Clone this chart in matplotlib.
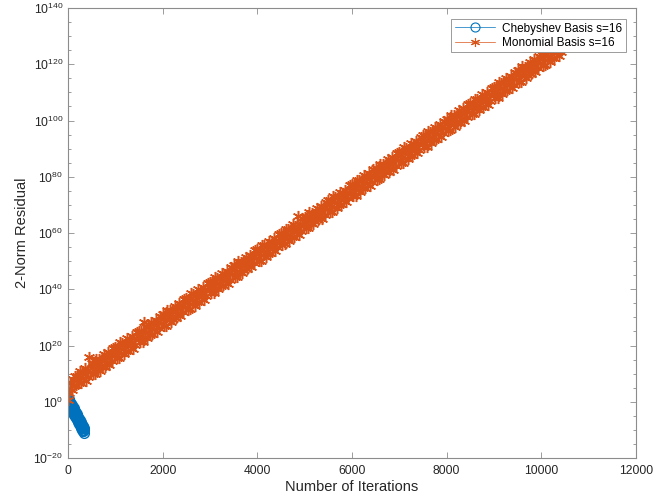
import numpy as np
import matplotlib
matplotlib.use("Agg")
import matplotlib.pyplot as plt

plt.rcParams['font.family'] = ['Liberation Sans', 'DejaVu Sans']
plt.rcParams['mathtext.default'] = 'regular'

# ---------------- data (log10 of the 2-norm residual) ----------------
cheb_iterations = list(range(0, 341, 5))
cheb_log10_residual = [
    1.5, -0.4, 0.8, -0.9, 1.0, -0.6, 0.3, -1.4, -0.4, -1.5,
    -0.1, -2.0, -0.8, -2.5, -0.7, -2.2, -1.3, -3.0, -2.0, -3.1,
    -1.7, -3.6, -2.4, -4.1, -2.3, -3.8, -2.9, -4.6, -3.6, -4.7,
    -3.3, -5.2, -4.1, -5.7, -3.9, -5.4, -4.5, -6.3, -5.2, -6.3,
    -4.9, -6.8, -5.7, -7.3, -5.5, -7.0, -6.1, -7.9, -6.8, -7.9,
    -6.5, -8.4, -7.3, -8.9, -7.1, -8.7, -7.7, -9.5, -8.4, -9.5,
    -8.2, -10.0, -8.9, -10.5, -8.7, -10.3, -9.3, -11.1, -10.0,
]

mono_iterations = list(range(0, 10501, 25))
mono_log10_residual = [
    0.5, 3.0, 6.5, 4.2, 8.0, 5.5, 9.0, 6.0, 9.1, 6.5,
    11.1, 6.7, 10.6, 8.6, 11.9, 7.3, 11.0, 8.7, 16.0, 10.7,
    13.8, 9.7, 13.6, 9.8, 15.3, 11.6, 15.1, 11.1, 14.9, 12.3,
    16.9, 12.5, 16.4, 14.3, 17.6, 13.1, 16.8, 14.5, 19.1, 16.5,
    19.6, 15.5, 19.3, 15.5, 21.1, 17.4, 20.9, 16.9, 20.7, 18.1,
    22.7, 18.2, 22.1, 20.1, 23.4, 18.9, 22.6, 20.3, 24.9, 22.3,
    25.3, 21.2, 25.1, 21.3, 28.5, 23.2, 26.7, 22.7, 26.5, 23.8,
    28.4, 24.0, 27.9, 25.9, 29.2, 24.7, 28.4, 26.1, 30.6, 28.0,
    31.1, 27.0, 30.9, 27.1, 32.7, 29.0, 32.5, 28.4, 32.2, 29.6,
    34.2, 29.8, 33.7, 31.7, 35.0, 30.5, 34.1, 31.8, 36.4, 33.8,
    36.9, 32.8, 36.7, 32.9, 38.5, 34.8, 38.2, 34.2, 38.0, 35.4,
    40.0, 35.6, 39.5, 37.5, 40.8, 36.2, 39.9, 37.6, 42.2, 39.6,
    42.7, 38.6, 42.5, 38.7, 44.2, 40.5, 44.0, 40.0, 43.8, 41.2,
    45.8, 41.4, 45.3, 43.2, 46.5, 42.0, 45.7, 43.4, 48.0, 45.4,
    48.5, 44.4, 48.2, 44.4, 50.0, 46.3, 49.8, 45.8, 49.6, 47.0,
    51.6, 47.1, 51.0, 49.0, 52.3, 47.8, 51.5, 49.2, 53.8, 51.2,
    54.2, 50.1, 54.0, 50.2, 55.8, 52.1, 55.6, 51.6, 55.4, 52.7,
    57.3, 52.9, 56.8, 54.8, 58.1, 53.6, 57.3, 55.0, 59.5, 56.9,
    60.0, 55.9, 59.8, 56.0, 61.6, 57.9, 61.4, 57.3, 61.1, 58.5,
    63.1, 58.7, 62.6, 60.6, 66.0, 59.4, 63.0, 60.7, 65.3, 62.7,
    65.8, 61.7, 65.6, 61.8, 67.4, 63.7, 67.1, 63.1, 66.9, 64.3,
    68.9, 64.5, 68.4, 66.4, 69.7, 65.1, 68.8, 66.5, 71.1, 68.5,
    71.6, 67.5, 71.4, 67.6, 73.1, 69.4, 72.9, 68.9, 72.7, 70.1,
    74.7, 70.3, 74.2, 72.1, 75.4, 70.9, 74.6, 72.3, 76.9, 74.3,
    77.4, 73.3, 77.1, 73.3, 78.9, 75.2, 78.7, 74.7, 78.5, 75.9,
    80.5, 76.0, 79.9, 77.9, 81.2, 76.7, 80.4, 78.1, 82.7, 80.1,
    83.1, 79.0, 82.9, 79.1, 84.7, 81.0, 84.5, 80.5, 84.3, 81.6,
    86.2, 81.8, 85.7, 83.7, 87.0, 82.5, 86.2, 83.9, 88.4, 85.8,
    88.9, 84.8, 88.7, 84.9, 90.5, 86.8, 90.3, 86.2, 90.0, 87.4,
    92.0, 87.6, 91.5, 89.5, 92.8, 88.3, 91.9, 89.6, 94.2, 91.6,
    94.7, 90.6, 94.5, 90.7, 96.3, 92.6, 96.0, 92.0, 95.8, 93.2,
    97.8, 93.4, 97.3, 95.3, 98.6, 94.0, 97.7, 95.4, 100.0, 97.4,
    100.5, 96.4, 100.3, 96.5, 102.0, 98.3, 101.8, 97.8, 101.6, 99.0,
    103.6, 99.2, 103.1, 101.0, 104.3, 99.8, 103.5, 101.2, 105.8, 103.2,
    106.3, 102.2, 106.0, 102.2, 107.8, 104.1, 107.6, 103.6, 107.4, 104.8,
    109.4, 104.9, 108.8, 106.8, 110.1, 105.6, 109.3, 107.0, 111.6, 109.0,
    112.0, 107.9, 111.8, 108.0, 113.6, 109.9, 113.4, 109.4, 113.2, 110.5,
    115.1, 110.7, 114.6, 112.6, 115.9, 111.4, 115.1, 112.8, 117.3, 114.7,
    117.8, 113.7, 117.6, 113.8, 119.4, 115.7, 119.2, 115.1, 118.9, 116.3,
    120.9, 116.5, 120.4, 118.4, 121.7, 117.2, 120.8, 118.5, 123.1, 120.5,
    123.6, 119.5, 123.4, 119.6, 125.2, 121.5, 124.9, 120.9, 124.7, 122.1,
    126.7, 122.3, 126.2, 124.2, 127.5, 122.9, 126.6, 124.3, 128.9, 126.3,
    129.4,
]

x_ticks = [0, 2000, 4000, 6000, 8000, 10000, 12000]
y_tick_exponents = [-20, 0, 20, 40, 60, 80, 100, 120, 140]

cheb_label = 'Chebyshev Basis s=16'
mono_label = 'Monomial Basis s=16'
x_label = 'Number of Iterations'
y_label = '2-Norm Residual'

# ---------------- plotting ----------------
blue = (0.0, 0.447, 0.741)
orange = (0.85, 0.325, 0.098)
axis_gray = '#8c8c8c'
text_color = '#262626'

fig = plt.figure(figsize=(6.55, 5.0), dpi=100)
ax = fig.add_axes([68/655, 42/500, 568/655, 450/500])

cheb_res = 10.0 ** np.array(cheb_log10_residual)
mono_res = 10.0 ** np.array(mono_log10_residual)

ax.plot(cheb_iterations, cheb_res, color=blue, lw=0.8, marker='o',
        markersize=7, markerfacecolor='none', markeredgewidth=1.0,
        label=cheb_label)
ax.plot(mono_iterations, mono_res, color=orange, lw=1.0, marker=(6, 2, 0),
        markersize=8, markeredgewidth=1.1, label=mono_label)

ax.set_yscale('log')
ax.set_xlim(0, 12000)
ax.set_ylim(10.0 ** -20, 10.0 ** 140)

ax.set_xticks(x_ticks)
ax.set_xticklabels([str(t) for t in x_ticks])
ax.set_yticks([10.0 ** e for e in y_tick_exponents])
ax.set_yticklabels(['$10^{%d}$' % e for e in y_tick_exponents])
minor_exp = [e for e in range(-20, 141, 5) if e % 20 != 0]
ax.set_yticks([10.0 ** e for e in minor_exp], minor=True)
ax.yaxis.set_minor_formatter(matplotlib.ticker.NullFormatter())
ax.xaxis.set_minor_locator(matplotlib.ticker.NullLocator())

ax.tick_params(axis='both', which='both', direction='in', top=True,
               right=True, color=axis_gray, labelcolor=text_color,
               labelsize=8.7, width=0.6)
ax.tick_params(axis='both', which='major', length=4)
ax.tick_params(axis='y', which='minor', length=2.5)
ax.tick_params(axis='x', which='major', pad=5)
for s in ax.spines.values():
    s.set_color(axis_gray)
    s.set_linewidth(0.8)

ax.set_xlabel(x_label, fontsize=10.5, color=text_color, labelpad=2)
ax.set_ylabel(y_label, fontsize=10.5, color=text_color, labelpad=3)

leg = ax.legend(loc='upper right', bbox_to_anchor=(0.982, 0.9756),
                borderaxespad=0, fontsize=8.5, fancybox=False, framealpha=1,
                edgecolor=axis_gray, handlelength=3.4, borderpad=0.3,
                labelspacing=0.2, handletextpad=0.6)
leg.get_frame().set_linewidth(0.6)
for h in leg.legend_handles:
    h.set_linewidth(0.5)
    h.set_markersize(6.5)
    h.set_markeredgewidth(0.8)
for t in leg.get_texts():
    t.set_color('black')

fig.savefig('out.png', dpi=100)
